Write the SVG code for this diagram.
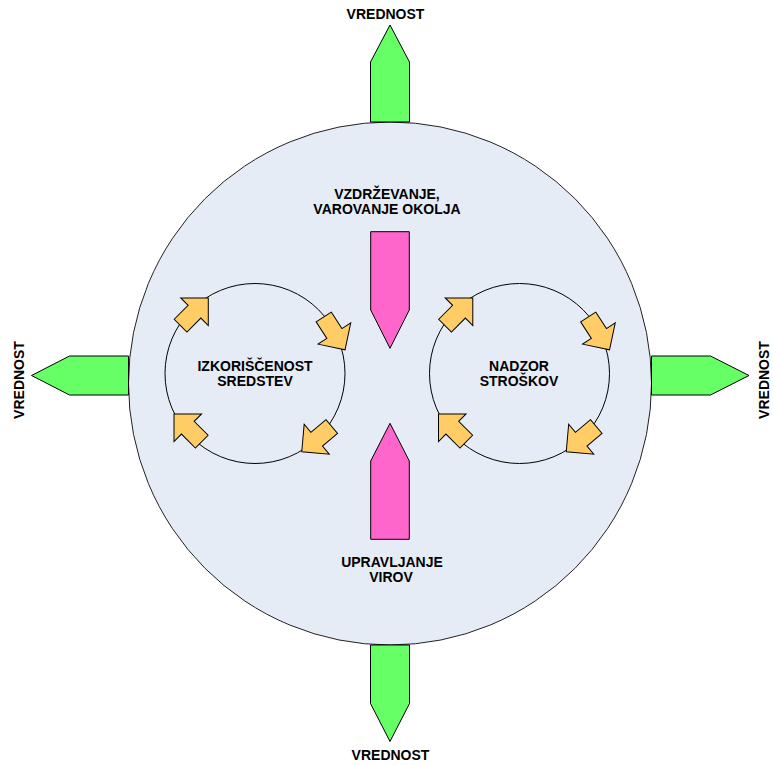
<svg xmlns="http://www.w3.org/2000/svg" xmlns:xlink="http://www.w3.org/1999/xlink" width="773" height="765" viewBox="0 0 773 765">
<style>
.t{font-family:"Liberation Sans",Arial,sans-serif;font-weight:bold;font-size:14px;fill:#000;text-anchor:middle}
.big{fill:#E6ECF6;stroke:#222;stroke-width:1}
.ring{fill:none;stroke:#000;stroke-width:1}
.green{fill:#66FF66;stroke:#000;stroke-width:1;stroke-linejoin:miter}
.pink{fill:#FF66CC;stroke:#000;stroke-width:1}
.orange{fill:#FFCC66;stroke:#000;stroke-width:1}
</style>
<defs>
<path id="blk" class="orange" d="M-19.7,-9 L0,-9 L0,-19.5 L19.5,0 L0,19.5 L0,9 L-19.7,9 Z"/>
<g id="cycle">
<circle class="ring" cx="0" cy="0" r="90"/>
<use xlink:href="#blk" transform="translate(-60.5,-61.8) rotate(-45)"/>
<use xlink:href="#blk" transform="translate(79.4,-40) rotate(57)"/>
<use xlink:href="#blk" transform="translate(61.7,65.7) rotate(140)"/>
<use xlink:href="#blk" transform="translate(-67.2,54.2) rotate(-135)"/>
</g>
</defs>
<rect width="773" height="765" fill="#fff"/>
<g id="hub">
<circle class="big" cx="390" cy="383.5" r="261.5"/>
</g>
<g id="value-top">
<path class="green" d="M370.5,122 L370.5,62 L390,25 L409.5,62 L409.5,122 Z"/>
<text class="t" x="385.5" y="18.5">VREDNOST</text>
</g>
<g id="value-bottom">
<path class="green" d="M370.5,645 L370.5,703.5 L390,741.5 L409.5,703.5 L409.5,645 Z"/>
<text class="t" x="390.5" y="760">VREDNOST</text>
</g>
<g id="value-left">
<path class="green" d="M128.5,356 L69.5,356 L31.5,375.5 L69.5,395 L128.5,395 Z"/>
<text class="t" transform="translate(24,380) rotate(-90)">VREDNOST</text>
</g>
<g id="value-right">
<path class="green" d="M651.5,356 L710.5,356 L749,375.5 L710.5,395 L651.5,395 Z"/>
<text class="t" transform="translate(768.5,380) rotate(-90)">VREDNOST</text>
</g>
<g id="maintenance">
<path class="pink" d="M370.7,231.7 L409.3,231.7 L409.3,310 L390,348.3 L370.7,310 Z"/>
<text class="t" x="387" y="199">VZDRŽEVANJE,</text>
<text class="t" x="387" y="214">VAROVANJE OKOLJA</text>
</g>
<g id="resources">
<path class="pink" d="M370.7,539.3 L409.3,539.3 L409.3,461 L390,423.3 L370.7,461 Z"/>
<text class="t" x="392" y="567">UPRAVLJANJE</text>
<text class="t" x="391" y="582">VIROV</text>
</g>
<g id="asset-utilization">
<use xlink:href="#cycle" transform="translate(255,373.5)"/>
<text class="t" x="255" y="371">IZKORIŠČENOST</text>
<text class="t" x="255" y="386">SREDSTEV</text>
</g>
<g id="cost-control">
<use xlink:href="#cycle" transform="translate(519.5,373.5)"/>
<text class="t" x="519" y="371">NADZOR</text>
<text class="t" x="519" y="386">STROŠKOV</text>
</g>
<g id="connectors"></g>
</svg>
